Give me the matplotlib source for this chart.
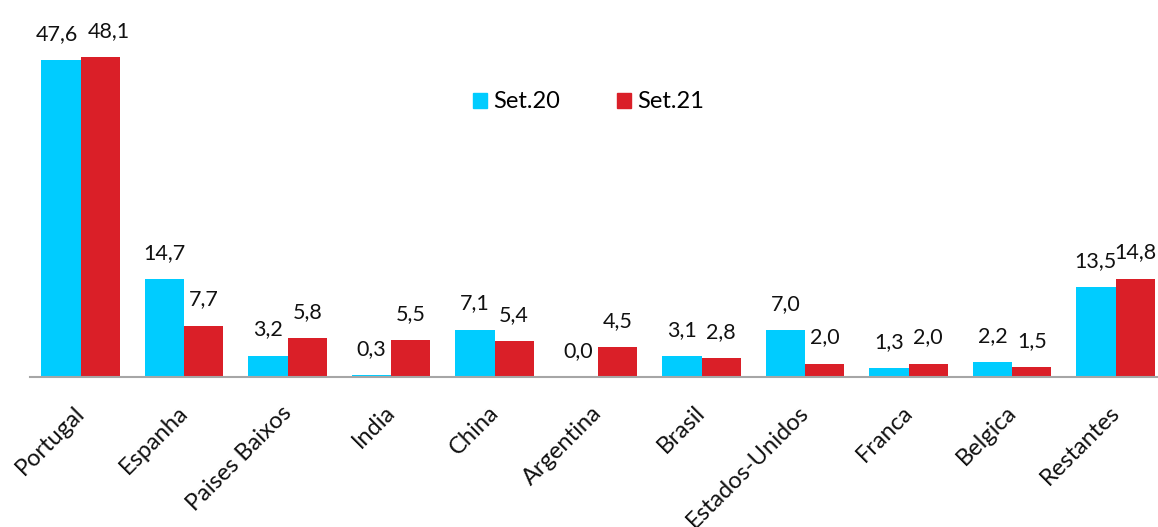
import matplotlib.pyplot as plt
import matplotlib.transforms as mtransforms
import numpy as np
from matplotlib.patches import Patch

plt.rcParams["font.family"] = ["Lato", "DejaVu Sans"]

countries = ["Portugal", "Espanha", "Paises Baixos", "India", "China", "Argentina",
             "Brasil", "Estados-Unidos", "Franca", "Belgica", "Restantes"]
set20 = [47.6, 14.7, 3.2, 0.3, 7.1, 0.0, 3.1, 7.0, 1.3, 2.2, 13.5]
set21 = [48.1, 7.7, 5.8, 5.5, 5.4, 4.5, 2.8, 2.0, 2.0, 1.5, 14.8]

blue = "#00CCFF"
red = "#DA1F28"

fig = plt.figure(figsize=(11.58, 5.27), dpi=100)
ax = fig.add_axes([30 / 1158, 1 - 377 / 527, 1 - 30 / 1158, 377 / 527])

x = np.arange(len(countries))
w = 0.38
b1 = ax.bar(x - w / 2, set20, w, color=blue)
b2 = ax.bar(x + w / 2, set21, w, color=red)


def fmt(v):
    return f"{v:.1f}".replace(".", ",")


for k, (bars, vals) in enumerate(((b1, set20), (b2, set21))):
    for i, (bar, v) in enumerate(zip(bars, vals)):
        dx = 0
        # push apart the two labels of the first group (nearly equal height)
        if i == 0:
            dx = -3 if k == 0 else 6
        ax.annotate(fmt(v), (bar.get_x() + bar.get_width() / 2, v),
                    xytext=(dx, 19), textcoords="offset points",
                    ha="center", va="center", fontsize=15.5, color="#111111")

ax.set_xlim(-0.488, 10.41)
ax.set_ylim(0, 56.67)
ax.set_yticks([])
ax.set_xticks(x)
ax.set_xticklabels(countries, rotation=45, ha="right", rotation_mode="anchor",
                   fontsize=17, color="#111111")
ax.tick_params(axis="x", length=0, pad=18)
shift = mtransforms.ScaledTranslation(-5 / 72, 0, fig.dpi_scale_trans)
for lbl in ax.get_xticklabels():
    lbl.set_transform(lbl.get_transform() + shift)
for s in ("top", "right", "left"):
    ax.spines[s].set_visible(False)
ax.spines["bottom"].set_color("#A6A6A6")
ax.spines["bottom"].set_linewidth(1.5)

handles = [Patch(color=blue), Patch(color=red)]
fig.legend(handles, ["Set.20", "Set.21"], loc="center left",
           bbox_to_anchor=(452 / 1158, 1 - 102 / 527), ncol=2, frameon=False,
           fontsize=17, handlelength=0.6, handleheight=0.6, handletextpad=0.25,
           columnspacing=2.4)

fig.savefig("out.png", dpi=100)
